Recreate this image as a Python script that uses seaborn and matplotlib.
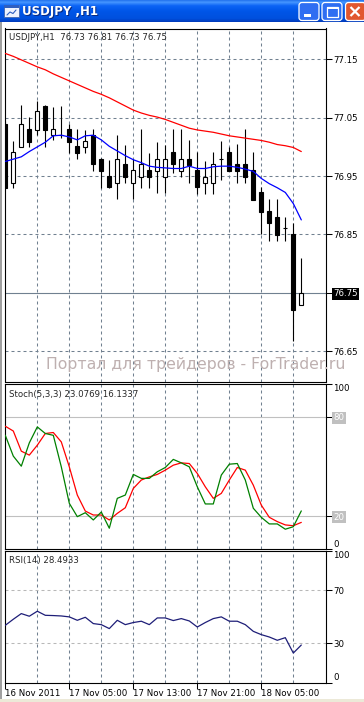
import numpy as np
import pandas as pd
import matplotlib
matplotlib.use("Agg")
import matplotlib.pyplot as plt
import seaborn as sns
from matplotlib.patches import Rectangle, FancyBboxPatch

# ---------------- data ----------------
window_title = "USDJPY ,H1"
main_header = "USDJPY,H1  76.73 76.81 76.73 76.75"
stoch_header = "Stoch(5,3,3) 23.0769 16.1337"
rsi_header = "RSI(14) 28.4933"
watermark = "Портал для трейдеров - ForTrader.ru"

time_labels = ["16 Nov 2011", "17 Nov 05:00", "17 Nov 13:00", "17 Nov 21:00", "18 Nov 05:00"]
label_bars = [0, 8, 16, 24, 32]

opens = [77.040, 76.939, 77.000, 77.030, 77.029, 77.070, 77.020, 77.021, 77.031, 77.001,
         77.000, 77.020, 76.980, 76.950, 76.939, 76.971, 76.939, 76.949, 76.960, 76.959,
         76.949, 76.991, 76.959, 76.980, 76.960, 76.939, 76.939, 76.980, 76.991, 76.970,
         76.970, 76.960, 76.922, 76.890, 76.880, 76.861, 76.850, 76.730]
highs = [77.045, 77.010, 77.071, 77.051, 77.079, 77.072, 77.068, 77.070, 77.040, 77.030,
         77.029, 77.030, 76.981, 76.978, 77.020, 77.003, 76.980, 77.030, 76.989, 77.009,
         77.003, 77.030, 77.030, 77.012, 76.992, 76.975, 76.992, 77.010, 77.000, 77.005,
         77.030, 76.992, 76.932, 76.910, 76.910, 76.880, 76.870, 76.810]
lows = [76.930, 76.930, 77.000, 77.000, 77.020, 77.000, 77.011, 77.015, 76.990, 76.979,
        76.990, 76.959, 76.930, 76.930, 76.910, 76.939, 76.910, 76.930, 76.930, 76.921,
        76.921, 76.955, 76.949, 76.939, 76.919, 76.919, 76.919, 76.943, 76.959, 76.939,
        76.939, 76.909, 76.850, 76.839, 76.839, 76.839, 76.668, 76.730]
closes = [76.930, 76.991, 77.040, 77.009, 77.061, 77.029, 77.030, 77.021, 77.009, 76.990,
          77.010, 76.970, 76.959, 76.931, 76.980, 76.949, 76.960, 76.970, 76.949, 76.980,
          76.980, 76.970, 76.980, 76.969, 76.932, 76.949, 76.970, 76.980, 76.959, 76.959,
          76.949, 76.909, 76.889, 76.869, 76.849, 76.861, 76.720, 76.750]

ma_slow = [77.160, 77.155, 77.149, 77.143, 77.137, 77.132, 77.125, 77.119, 77.113, 77.107,
           77.101, 77.095, 77.090, 77.084, 77.077, 77.070, 77.063, 77.058, 77.054, 77.051,
           77.047, 77.042, 77.037, 77.032, 77.029, 77.027, 77.025, 77.022, 77.019, 77.017,
           77.015, 77.013, 77.011, 77.008, 77.004, 77.002, 76.999, 76.992]
ma_fast = [76.975, 76.979, 76.983, 76.992, 77.000, 77.008, 77.019, 77.020, 77.017, 77.012,
           77.019, 77.020, 77.012, 77.001, 76.993, 76.985, 76.978, 76.973, 76.967, 76.965,
           76.964, 76.963, 76.963, 76.967, 76.963, 76.963, 76.966, 76.967, 76.967, 76.965,
           76.962, 76.958, 76.946, 76.937, 76.930, 76.922, 76.903, 76.875]

stoch_main = [68.9, 56.3, 50.2, 64.3, 74.0, 70.0, 68.9, 49.8, 27.7, 19.6,
              22.0, 17.6, 22.4, 12.6, 30.7, 32.7, 45.2, 42.8, 42.8, 46.8,
              49.4, 54.3, 52.2, 49.8, 37.7, 27.3, 27.3, 44.8, 51.4, 51.8,
              41.8, 24.7, 19.2, 15.2, 15.2, 12.0, 13.5, 23.08]
stoch_signal = [74.4, 71.5, 59.3, 56.9, 62.9, 70.0, 70.6, 64.9, 49.8, 32.7,
                23.0, 20.6, 20.6, 17.6, 21.6, 25.0, 36.7, 41.8, 43.7, 45.2,
                47.8, 50.8, 52.2, 51.8, 45.8, 37.7, 30.7, 33.7, 41.8, 49.4,
                47.8, 38.7, 26.6, 19.2, 16.6, 14.6, 14.1, 16.13]
rsi = [43.5, 48.1, 52.4, 50.4, 54.2, 51.1, 50.9, 50.6, 49.9, 47.3,
       49.6, 44.8, 44.0, 41.0, 47.3, 44.0, 45.6, 46.6, 44.0, 49.1,
       49.1, 47.1, 48.6, 46.8, 42.2, 45.6, 48.6, 49.9, 46.6, 46.6,
       44.0, 38.9, 36.4, 34.6, 32.1, 34.1, 22.4, 28.49]

price_ticks = [76.65, 76.75, 76.85, 76.95, 77.05, 77.15]
last_price = 76.75
stoch_levels = [20, 80]
rsi_levels = [30, 70]

# ---------------- style ----------------
sns.set_style("white")
plt.rcParams["font.family"] = ["DejaVu Sans"]
plt.rcParams["lines.scale_dashes"] = False
plt.rcParams["axes.linewidth"] = 0.75

W, H = 364, 702
PX = 0.72  # points per pixel at 100 dpi
fig = plt.figure(figsize=(W / 100, H / 100), dpi=100)
fig.patch.set_facecolor("white")

def rect(x0, y0, x1, y1):
    return [x0 / W, 1 - y1 / H, (x1 - x0) / W, (y1 - y0) / H]

GRID = "#708090"
DASH = (0, (3 * PX, 3 * PX))
FS = 6.2
n = len(opens)
bars = np.arange(n)
xlim = (-0.1, 40.025)
grid_bars = list(range(4, 40, 4))

ax_main = fig.add_axes(rect(4.5, 28.5, 325.5, 381.5))
ax_sto = fig.add_axes(rect(4.5, 384, 325.5, 549))
ax_rsi = fig.add_axes(rect(4.5, 551, 325.5, 682.5))

for ax in (ax_main, ax_sto, ax_rsi):
    ax.set_facecolor("white")
    for s in ax.spines.values():
        s.set_color("black")
        s.set_linewidth(0.8)
    ax.set_xlim(*xlim)
    for g in grid_bars:
        ax.axvline(g, color=GRID, lw=0.75, ls=DASH, zorder=0.5)
    ax.yaxis.tick_right()
    ax.tick_params(axis="y", direction="out", length=4, width=0.75, pad=1.5,
                   labelsize=FS, colors="black", left=False, right=True,
                   labelleft=False, labelright=True)

# ---------------- main price pane ----------------
ax_main.set_ylim(76.5983, 77.2027)
for p in price_ticks:
    if p != last_price:
        ax_main.axhline(p, color=GRID, lw=0.75, ls=DASH, zorder=0.5)
ax_main.axhline(last_price, color=GRID, lw=0.8, zorder=0.6)

df = pd.DataFrame({"bar": bars, "open": opens, "high": highs, "low": lows, "close": closes})
ax_main.vlines(df["bar"], df["low"], df["high"], color="black", lw=0.8, zorder=2)
up = df["close"] >= df["open"]
body_bottom = np.minimum(df["open"], df["close"])
body_h = np.abs(df["close"] - df["open"])
ax_main.bar(df["bar"][up], body_h[up], bottom=body_bottom[up], width=0.5,
            color="white", edgecolor="black", linewidth=0.8, zorder=3)
ax_main.bar(df["bar"][~up], body_h[~up], bottom=body_bottom[~up], width=0.5,
            color="black", edgecolor="black", linewidth=0.8, zorder=3)

sns.lineplot(x=bars, y=ma_slow, ax=ax_main, color="#FF0000", lw=0.9, legend=False, zorder=4)
sns.lineplot(x=bars, y=ma_fast, ax=ax_main, color="#0000FF", lw=0.9, legend=False, zorder=4)

ax_main.set_yticks(price_ticks)
ax_main.set_yticklabels([f"{p:.2f}" for p in price_ticks])
for lbl in ax_main.get_yticklabels():
    if lbl.get_text() == f"{last_price:.2f}":
        lbl.set_color("white")
        lbl.set_bbox(dict(facecolor="black", edgecolor="none", pad=1.2))
ax_main.set_xticks([])
ax_main.set_xlabel("")
ax_main.set_ylabel("")

# ---------------- stochastic ----------------
ax_sto.set_ylim(0, 100)
for lv in stoch_levels:
    ax_sto.axhline(lv, color="#C0C0C0", lw=0.8, zorder=0.6)
sns.lineplot(x=bars, y=stoch_signal, ax=ax_sto, color="#FF0000", lw=0.9, legend=False, zorder=3)
sns.lineplot(x=bars, y=stoch_main, ax=ax_sto, color="#008000", lw=0.9, legend=False, zorder=4)
ax_sto.set_yticks([0, 20, 80, 100])
ax_sto.set_yticklabels(["0", "20", "80", "100"])
lbls = ax_sto.get_yticklabels()
lbls[0].set_va("bottom")
lbls[3].set_va("top")
for i in (1, 2):
    lbls[i].set_color("white")
    lbls[i].set_bbox(dict(facecolor="#C0C0C0", edgecolor="none", pad=1.0))
ax_sto.set_xticks([])
ax_sto.set_xlabel("")
ax_sto.set_ylabel("")

# ---------------- RSI ----------------
ax_rsi.set_ylim(0, 100)
for lv in rsi_levels:
    ax_rsi.axhline(lv, color="#B8B8B8", lw=0.75, ls=DASH, zorder=0.6)
sns.lineplot(x=bars, y=rsi, ax=ax_rsi, color="#1E1E78", lw=0.9, legend=False, zorder=3)
ax_rsi.set_yticks([0, 30, 70, 100])
ax_rsi.set_yticklabels(["0", "30", "70", "100"])
rl = ax_rsi.get_yticklabels()
rl[0].set_va("bottom")
rl[3].set_va("top")
ax_rsi.set_xticks(label_bars)
ax_rsi.set_xticklabels(time_labels)
ax_rsi.tick_params(axis="x", direction="out", length=4, width=0.75, pad=1,
                   labelsize=FS, colors="black", bottom=True)
for t in ax_rsi.get_xticklabels():
    t.set_ha("left")
ax_rsi.set_xlabel("")
ax_rsi.set_ylabel("")

# ---------------- headers ----------------
fig.text(9 / W, 1 - 37 / H, main_header, fontsize=FS, va="center", ha="left")
fig.text(9 / W, 1 - 394 / H, stoch_header, fontsize=FS, va="center", ha="left")
fig.text(9 / W, 1 - 561 / H, rsi_header, fontsize=FS, va="center", ha="left")

# ---------------- window chrome overlay ----------------
ov = fig.add_axes([0, 0, 1, 1], zorder=10)
ov.patch.set_alpha(0)
ov.axis("off")
stops = [(0.0, (40, 120, 240)), (0.08, (70, 150, 255)), (0.25, (12, 100, 245)),
         (0.5, (0, 86, 232)), (0.85, (0, 80, 222)), (1.0, (0, 60, 190))]
t = np.linspace(0, 1, 22)
grad = np.zeros((22, 2, 3))
for c in range(3):
    grad[:, :, c] = np.interp(t, [s[0] for s in stops], [s[1][c] / 255 for s in stops])[:, None]
ov.imshow(grad, extent=(0, W, 22, 0), aspect="auto", interpolation="bilinear")
ov.add_patch(Rectangle((0, 22), 1.5, 677, fc="#A0A0A0", ec="none"))
ov.add_patch(Rectangle((0, 699), W, 3, fc="#ECE9D8", ec="none"))
# icon
ov.add_patch(Rectangle((4, 5), 15, 12, fc="#EEF3FF", ec="#4466AA", lw=0.6))
ov.add_patch(Rectangle((4, 5), 15, 3, fc="#2F5FC0", ec="none"))
ov.plot([7, 10, 13, 16], [15, 12, 13.5, 10], color="#2F5FC0", lw=0.8)
# title
ov.text(23, 12.2, window_title, color="#0A2A80", fontsize=8.5, fontweight="bold", va="center")
ov.text(22, 11.2, window_title, color="white", fontsize=8.5, fontweight="bold", va="center")
# buttons
for x0, fc in ((299, "#2F6EF2"), (322, "#2F6EF2"), (345.5, "#E1572F")):
    ov.add_patch(FancyBboxPatch((x0, 2.5), 20, 18, boxstyle="round,pad=0,rounding_size=3",
                                fc=fc, ec="white", lw=0.9))
ov.add_patch(Rectangle((303.5, 14), 7, 3, fc="white", ec="none"))
ov.add_patch(Rectangle((326.5, 6.5), 11.5, 10.5, fill=False, ec="white", lw=0.9))
ov.add_patch(Rectangle((326.5, 6.5), 11.5, 2.5, fc="white", ec="none"))
ov.plot([350.5, 359.5], [7, 16], color="white", lw=1.6, solid_capstyle="butt")
ov.plot([359.5, 350.5], [7, 16], color="white", lw=1.6, solid_capstyle="butt")
# watermark
ov.text(46.5, 364.5, watermark, color="#BEB0B0", fontsize=11.3, va="center", ha="left")
ov.set_xlim(0, W)
ov.set_ylim(H, 0)

fig.savefig("out.png", dpi=100)
